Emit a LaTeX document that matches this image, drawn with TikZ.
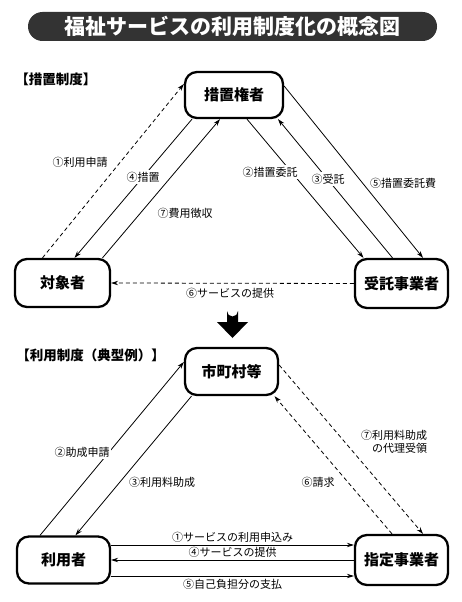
\documentclass[tikz,border=0pt]{standalone}
\usepackage{fontspec}
\setmainfont{Noto Sans CJK JP}
\usetikzlibrary{arrows.meta,positioning}

\begin{document}
\begin{tikzpicture}[x=1pt,y=-1pt,>={Stealth[length=7pt,width=4.5pt]},line width=0.8pt,
  box/.style={draw,line width=2.3pt,rounded corners=12pt,align=center,
    font=\fontsize{15}{17}\selectfont\bfseries},
  lab/.style={fill=white,font=\fontsize{11}{13.5}\selectfont,inner sep=1.5pt},
  sect/.style={anchor=west,inner sep=0pt,font=\fontsize{13.5}{16}\selectfont\bfseries},
  dline/.style={dash pattern=on 4pt off 3pt}]
\useasboundingbox (0,0) rectangle (461,602);

% title
\node (title) [fill=black!80,rounded corners=14.5pt,minimum width=409pt,minimum height=29pt,
  text=white,font=\fontsize{21}{24}\selectfont\bfseries] at (232.5,26.5)
  {福祉サービスの利用制度化の概念図};

% 措置制度
\node (sect1) [sect] at (15,79) {【措置制度】};
\node (kensha) [box,minimum width=98pt,minimum height=46pt] at (234,95) {措置権者};
\node (taisho) [box,minimum width=95pt,minimum height=48pt] at (62.5,283) {対象者};
\node (jutaku) [box,minimum width=93pt,minimum height=49pt] at (401.5,283.5) {受託事業者};

\draw[->,dline] ([xshift=-20pt]taisho.north) -- ([yshift=11pt]kensha.west);
\draw[->] ([xshift=-42pt]kensha.south) -- ([xshift=12pt]taisho.north);
\draw[->] ([xshift=40pt]taisho.north) -- ([xshift=-14pt]kensha.south);
\draw[->] ([xshift=13pt]kensha.south) -- ([xshift=-38pt]jutaku.north);
\draw[->] ([xshift=-9pt]jutaku.north) -- ([xshift=44pt]kensha.south);
\draw[->] ([yshift=9pt]kensha.east) -- ([xshift=21.5pt]jutaku.north);
\draw[->,dline] (jutaku.west) -- (taisho.east);

\node (l1) [lab] at (80,162) {①利用申請};
\node (l4) [lab] at (143,177) {④措置};
\node (l7) [lab] at (185,213) {⑦費用徴収};
\node (l2) [lab] at (270,172) {②措置委託};
\node (l3) [lab] at (328,179) {③受託};
\node (l5) [lab] at (403,183) {⑤措置委託費};
\node (l6) [lab] at (230,293) {⑥サービスの提供};

% big arrow
\fill[black] (227,322) -- (227,311) arc (180:0:5.5) -- (238,322) -- (248,322)
  -- (232.5,338) -- (217,322) -- cycle;

% 利用制度
\node (sect2) [sect] at (16,355) {【利用制度（典型例）】};
\node (shichoson) [box,minimum width=93pt,minimum height=47pt] at (231.5,371.5) {市町村等};
\node (riyosha) [box,minimum width=93pt,minimum height=47pt] at (63.5,560) {利用者};
\node (shitei) [box,minimum width=93pt,minimum height=50pt] at (401.5,560) {指定事業者};

\draw[->] ([xshift=-23.5pt]riyosha.north) -- ([yshift=9.5pt]shichoson.west);
\draw[->] ([xshift=-40pt]shichoson.south) -- ([xshift=12pt]riyosha.north);
\draw[->,dline] ([xshift=-9.5pt]shitei.north) -- ([xshift=43pt]shichoson.south);
\draw[->,dline] ([yshift=6.5pt]shichoson.east) -- ([xshift=21.5pt]shitei.north);

\node (m2) [lab] at (82,452) {②助成申請};
\node (m3) [lab] at (162,482) {③利用料助成};
\node (m6) [lab] at (318,482) {⑥請求};
\node (m7) [lab,align=right,anchor=east] at (429,442) {⑦利用料助成\\の代理受領};

\draw[->] ([yshift=15pt]riyosha.east) -- ([yshift=15pt]shitei.west)
  node (m1) [lab,fill=none,midway,above=1pt] {①サービスの利用申込み};
\draw[->] (shitei.west) -- (riyosha.east)
  node (m4) [lab,fill=none,midway,above=1pt] {④サービスの提供};
\draw[->] ([yshift=-16pt]riyosha.east) -- ([yshift=-16pt]shitei.west)
  node (m5) [lab,fill=none,midway,below=1pt] {⑤自己負担分の支払};
\end{tikzpicture}
\end{document}
